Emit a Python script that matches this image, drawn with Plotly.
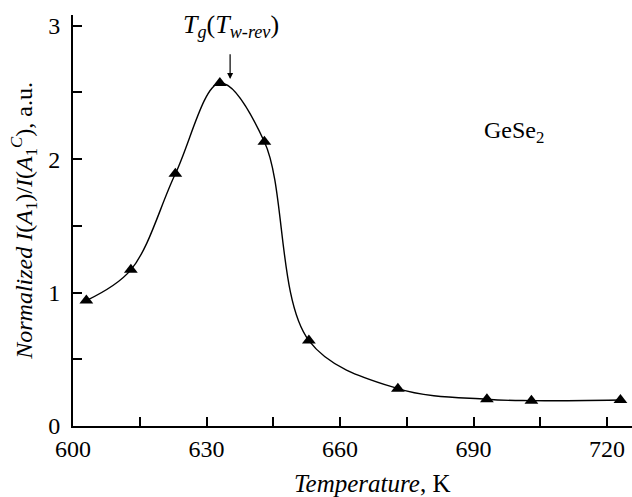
import plotly.graph_objects as go

temperature = [603, 613, 623, 633, 643, 653, 673, 693, 703, 723]
intensity = [0.94, 1.17, 1.89, 2.57, 2.13, 0.64, 0.28, 0.20, 0.19, 0.195]

x_tickvals = [600, 630, 660, 690, 720]
x_minorvals = [615, 645, 675, 705]
y_tickvals = [0, 1, 2, 3]
y_minorvals = [0.5, 1.5, 2.5]

FONT = "Liberation Serif, Times New Roman, serif"

fig = go.Figure()
fig.add_trace(go.Scatter(
    x=temperature, y=intensity, mode="lines",
    line=dict(shape="spline", smoothing=1.0, color="black", width=1.4),
    hoverinfo="skip", showlegend=False))
fig.add_trace(go.Scatter(
    x=temperature, y=intensity, mode="markers",
    marker=dict(symbol="triangle-up", size=12, color="black"),
    showlegend=False))

fig.add_annotation(x=635.3, y=2.6, ax=635.3, ay=2.86, xref="x", yref="y",
                   axref="x", ayref="y", text=" ", showarrow=True,
                   arrowhead=2, arrowsize=1, arrowwidth=1.2, arrowcolor="black")
fig.add_annotation(x=635.5, y=3.0, xref="x", yref="y", showarrow=False,
                   text="<i>T</i><sub><i>g</i></sub>(<i>T</i><sub><i>w-rev</i></sub>)",
                   font=dict(family=FONT, size=26, color="black"))
fig.add_annotation(x=699, y=2.2, xref="x", yref="y", showarrow=False,
                   text="GeSe<sub>2</sub>",
                   font=dict(family=FONT, size=24, color="black"))
fig.add_annotation(x=0.535, y=-0.14, xref="paper", yref="paper", showarrow=False,
                   text="<i>Temperature</i>, K", yanchor="middle",
                   font=dict(family=FONT, size=25, color="black"))
fig.add_annotation(x=-0.089, y=0.5, xref="paper", yref="paper", showarrow=False,
                   textangle=-90, xanchor="center", yanchor="middle",
                   text="<i>Normalized I</i>(<i>A</i><sub>1</sub>)/<i>I</i>(<i>A</i><sub>1</sub><sup><i>C</i></sup>), a.u.",
                   font=dict(family=FONT, size=24, color="black"))

fig.update_xaxes(range=[600, 725.6], tickvals=x_tickvals,
                 ticks="inside", ticklen=9, tickwidth=1.5, tickcolor="black",
                 minor=dict(tickvals=x_minorvals, ticks="inside", ticklen=9,
                            tickwidth=1.5, tickcolor="black", showgrid=False),
                 showline=True, linewidth=2, linecolor="black", showgrid=False,
                 zeroline=False, automargin=False,
                 tickfont=dict(family=FONT, size=24, color="black"))
fig.update_yaxes(range=[0, 3.08], tickvals=y_tickvals,
                 ticks="inside", ticklen=9, tickwidth=1.5, tickcolor="black",
                 minor=dict(tickvals=y_minorvals, ticks="inside", ticklen=9,
                            tickwidth=1.5, tickcolor="black", showgrid=False),
                 showline=True, linewidth=2, linecolor="black", showgrid=False,
                 zeroline=False, ticklabelstandoff=6, automargin=False,
                 tickfont=dict(family=FONT, size=24, color="black"))

fig.update_layout(width=632, height=497, margin=dict(l=73, r=0, t=15, b=71),
                  plot_bgcolor="white", paper_bgcolor="white")

fig.write_html("out.html", config={"displayModeBar": False},
               post_script="document.body.style.margin='0';document.body.style.overflow='hidden';")
